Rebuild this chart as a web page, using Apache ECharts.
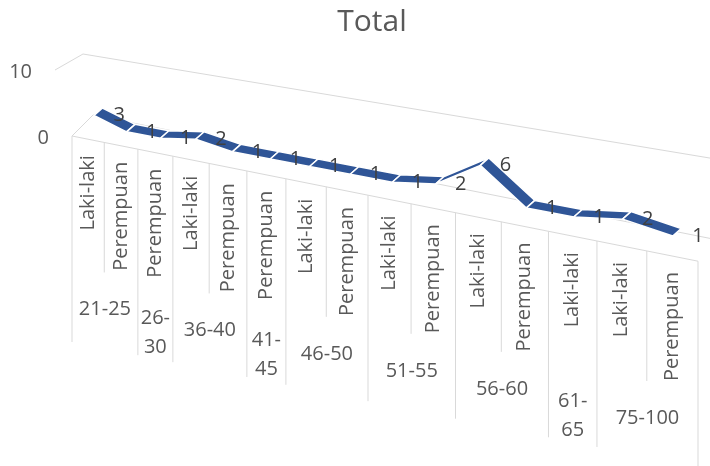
<!DOCTYPE html>
<html><head><meta charset="utf-8">
<script src="https://cdn.jsdelivr.net/npm/echarts@6/dist/echarts.min.js"></script>
<style>html,body{margin:0;padding:0;background:#fff}#c{width:710px;height:466px}</style>
</head><body><div id="c"></div>
<script>
// ---------- data ----------
const titleText = 'Total';
const categories = ['Laki-laki','Perempuan','Perempuan','Laki-laki','Perempuan','Perempuan','Laki-laki','Perempuan','Laki-laki','Perempuan','Laki-laki','Perempuan','Laki-laki','Laki-laki','Perempuan'];
const groupLabels = ['21-25','26-30','36-40','41-45','46-50','51-55','56-60','61-65','75-100'];
const groupSizes = [2,1,2,1,2,2,2,1,2];
const totals = [3,1,1,2,1,1,1,1,1,2,6,1,1,2,1];
const yTicks = [0, 10];

// ---------- style ----------
const FONT = '"Open Sans", sans-serif';
const TEXT = '#595959';
const LINE = '#d9d9d9';
const RIBBON = '#2f5597';
const N = categories.length;

function geom(api) {
  const o = api.coord([0, 0]);
  const bw = api.size([1, 0])[0];
  const top = api.coord([0, yTicks[yTicks.length - 1]])[1];
  return { left: o[0] - bw / 2, width: bw * N, bottom: o[1], top: top, unit: api.size([0, 1])[1] };
}
function U(g, px) { return (px - g.left) / g.width; }
function FX(g, u) { return g.left + g.width * (0.757 * u + 0.243 * u * u); }
function FY(g, x) { return g.bottom + 0.2 * (x - g.left); }
function ribbonPt(g, p) {
  const u = U(g, p[0]);
  const x0 = FX(g, u);
  const rise = (g.bottom - p[1]) * (5 + 2.5 * u) / g.unit;
  return [x0 + 10.5 - 6 * u, FY(g, x0) - (12 + 4.5 * u) - rise];
}

function renderFrame(params, api) {
  const g = geom(api);
  const ch = [];
  const line = (pts) => ch.push({ type: 'polyline', silent: true, shape: { points: pts }, style: { stroke: LINE, lineWidth: 1, fill: null } });
  const text = (x, y, t, extra) => ch.push(Object.assign({ type: 'text', silent: true, x: x, y: y,
    style: Object.assign({ text: t, fill: TEXT, font: '20px ' + FONT, align: 'center', verticalAlign: 'middle' }, extra && extra.style || {}) },
    extra && extra.el || {}));

  // walls / value gridlines + y labels
  yTicks.forEach(t => {
    const py = api.coord([0, t])[1];
    const f = (g.bottom - py) / (g.bottom - g.top);
    const fl = [g.left - 17 * f, py];
    const bl = [fl[0] + 21 + 7 * f, py - 21 + 5 * f];
    const slope = 0.2 - 0.034 * f;
    const ex = 722;
    line([fl, bl, [ex, bl[1] + slope * (ex - bl[0])]]);
    text(fl[0] - 23, py + 2, String(t), { style: { align: 'right' } });
  });

  // front floor edge
  const xr = FX(g, 1);
  line([[g.left, g.bottom], [xr, FY(g, xr)]]);

  // group boundaries
  const bounds = [0];
  groupSizes.forEach(s => bounds.push(bounds[bounds.length - 1] + s));
  for (let k = 0; k <= N; k++) {
    const x = FX(g, k / N);
    const y = FY(g, x);
    const len = bounds.indexOf(k) >= 0 ? 206 : 130;
    line([[x, y], [x, y + len]]);
  }

  // category labels
  categories.forEach((c, i) => {
    const px = api.coord([i, 0])[0];
    const x = FX(g, U(g, px));
    text(x, FY(g, x) + 16, c, { style: { align: 'right' }, el: { rotation: Math.PI / 2 } });
  });

  // group labels
  groupLabels.forEach((lab, j) => {
    const s = bounds[j], m = groupSizes[j];
    const x = (FX(g, s / N) + FX(g, (s + m) / N)) / 2;
    const y = FY(g, x) + (m === 1 ? 180 : 167);
    text(x, y, m === 1 ? lab.replace('-', '-\n') : lab, { style: { lineHeight: 29 } });
  });

  return { type: 'group', children: ch };
}

function renderRibbon(params, api) {
  const g = geom(api);
  const i = params.dataIndex;
  const p = ribbonPt(g, api.coord([api.value(0), api.value(1)]));
  const ch = [];
  if (i < totals.length - 1) {
    const q = ribbonPt(g, api.coord([i + 1, totals[i + 1]]));
    const D = [8.5, -7.5];
    ch.push({ type: 'polygon', z2: i, shape: { points: [
      [p[0] - D[0] / 2, p[1] - D[1] / 2], [q[0] - D[0] / 2, q[1] - D[1] / 2],
      [q[0] + D[0] / 2, q[1] + D[1] / 2], [p[0] + D[0] / 2, p[1] + D[1] / 2]] },
      style: { fill: RIBBON, stroke: '#ffffff', lineWidth: 1.5 } });
  }
  ch.push({ type: 'text', z2: 100, x: p[0] + 21, y: p[1] + 4,
    style: { text: String(api.value(1)), fill: '#404040', font: '20px ' + FONT, align: 'center', verticalAlign: 'middle' } });
  return { type: 'group', children: ch };
}

const chart = echarts.init(document.getElementById('c'), null, { renderer: 'canvas' });
chart.setOption({
  animation: false,
  backgroundColor: '#ffffff',
  grid: { left: 72, top: 70, width: 626, height: 66 },
  xAxis: { type: 'category', data: categories, show: false },
  yAxis: { type: 'value', min: yTicks[0], max: yTicks[yTicks.length - 1], show: false },
  graphic: [{ type: 'text', x: 372, y: 22, style: { text: titleText, fill: TEXT, font: '30px ' + FONT, align: 'center', verticalAlign: 'middle' } }],
  series: [
    { type: 'custom', clip: false, silent: true, data: [[0, 0]], renderItem: renderFrame, z: 1 },
    { type: 'custom', clip: false, silent: true, data: totals.map((v, i) => [i, v]), renderItem: renderRibbon, z: 2 }
  ]
});
</script></body></html>
